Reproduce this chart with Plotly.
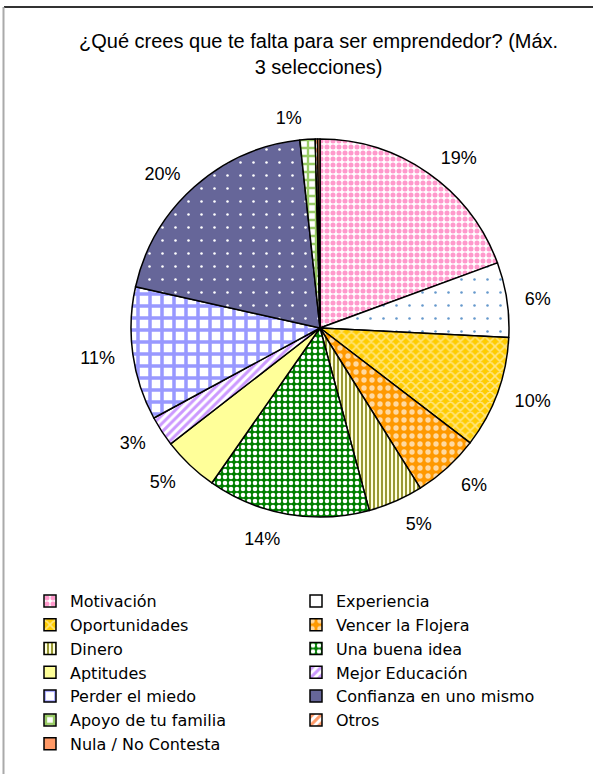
import plotly.graph_objects as go

labels = ["Motivación", "Experiencia", "Oportunidades", "Vencer la Flojera", "Dinero",
          "Una buena idea", "Aptitudes", "Mejor Educación", "Perder el miedo",
          "Confianza en uno mismo", "Apoyo de tu familia", "Otros", "Nula / No Contesta"]
values = [19.4, 6.4, 9.6, 5.7, 4.7, 13.9, 4.8, 2.6, 11.4, 19.8, 1.3, 0.2, 0.2]
show_label = [True] * 11 + [False, False]
title_text = "¿Qué crees que te falta para ser emprendedor? (Máx.<br>3 selecciones)"

bg = ["#FFFFFF", "#FFFFFF", "#FFCC00", "#FF9900", "#FFFFE0", "#008000", "#FFFF99",
      "#FFFFFF", "#FFFFFF", "#666699", "#FFFFFF", "#FFFFFF", "#FF9966"]
fg = ["#FF99CC", "#6699CC", "#FFE680", "#FFD9A0", "#999933", "#FFFFFF", "#FFFF99",
      "#CC99FF", "#9999FF", "#FFFFFF", "#99CC66", "#FF9966", "#FF9966"]
shape = [".", ".", "x", ".", "|", ".", "", "/", "+", ".", "+", "/", "/"]
psize = [6, 13, 7, 8, 4, 6, 8, 6, 12, 13, 8, 6, 6]
solid = [0.55, 0.03, 0.4, 0.35, 0.5, 0.45, 0.3, 0.5, 0.5, 0.03, 0.5, 0.5, 0.5]

FONT = "Liberation Sans, Arial"
LFONT = "DejaVu Sans"
W, H = 593, 774

# main pie (slices, no text)
fig = go.Figure(go.Pie(
    labels=labels, values=values, sort=False, direction="clockwise", rotation=0,
    textinfo="none",
    marker=dict(colors=bg, line=dict(color="black", width=1.5),
                pattern=dict(shape=shape, fgcolor=fg, bgcolor=bg, size=psize,
                             solidity=solid, fillmode="replace")),
    domain=dict(x=[131 / W, 509 / W], y=[1 - 517 / H, 1 - 139 / H]),
    hoverinfo="label+percent",
))

# transparent twin pie, slightly larger, only carrying the outside percent labels
fig.add_trace(go.Pie(
    labels=labels, values=values, sort=False, direction="clockwise", rotation=0,
    textposition="outside",
    texttemplate=["%{percent:.0%}" if s else "" for s in show_label],
    textfont=dict(family=FONT, size=18, color="black"),
    marker=dict(colors=["rgba(0,0,0,0)"] * len(labels), line=dict(width=0)),
    domain=dict(x=[118 / W, 522 / W], y=[1 - 532 / H, 1 - 128 / H]),
    showlegend=False, hoverinfo="skip",
))

fig.update_layout(
    width=W, height=H,
    margin=dict(l=0, r=0, t=0, b=0, autoexpand=False),
    paper_bgcolor="white", plot_bgcolor="white",
    font=dict(family=FONT, size=18, color="black"),
    showlegend=True,
    legend=dict(orientation="h", x=30 / W, xanchor="left", y=1 - 584 / H, yanchor="top",
                entrywidth=221, entrywidthmode="pixels", traceorder="normal",
                font=dict(family=LFONT, size=16, color="black"), itemclick=False),
    annotations=[
        dict(text=title_text, xref="paper", yref="paper", x=318 / W, y=1 - 54 / H,
             xanchor="center", yanchor="middle", showarrow=False, font=dict(size=20)),
    ],
    shapes=[
        dict(type="line", xref="paper", yref="paper", x0=4 / W, x1=1, y0=1 - 7 / H, y1=1 - 7 / H,
             line=dict(color="#333333", width=2)),
        dict(type="line", xref="paper", yref="paper", x0=3.5 / W, x1=3.5 / W, y0=0, y1=1 - 7 / H,
             line=dict(color="#AAAAAA", width=2)),
    ],
)

fig.write_html("out.html", config={"displayModeBar": False},
               post_script="document.body.style.margin='0';document.body.style.overflow='hidden';")
